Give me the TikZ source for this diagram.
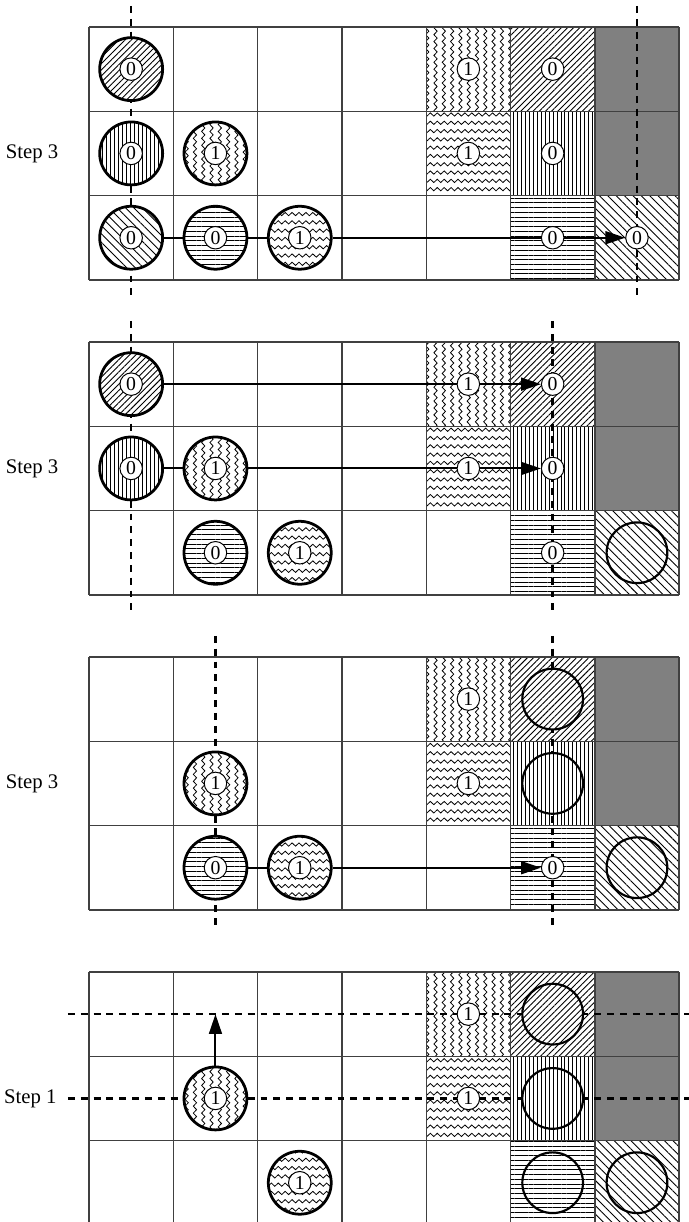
\documentclass[tikz,border=0pt]{standalone}
\usepackage{fontspec}
\setmainfont{Liberation Serif}
\usetikzlibrary{arrows.meta,patterns,patterns.meta}

\pgfdeclarelayer{bg}
\pgfsetlayers{bg,main}

\pgfdeclarepatternformonly{vwaves}{\pgfpoint{-1pt}{-1pt}}{\pgfpoint{5.2pt}{4.5pt}}{\pgfpoint{4.2pt}{3.5pt}}{%
  \pgfsetlinewidth{0.4pt}%
  \pgfpathmoveto{\pgfpoint{2.1pt}{0pt}}%
  \pgfpathcurveto{\pgfpoint{3.2pt}{0.6pt}}{\pgfpoint{3.2pt}{1.15pt}}{\pgfpoint{2.1pt}{1.75pt}}%
  \pgfpathcurveto{\pgfpoint{1pt}{2.35pt}}{\pgfpoint{1pt}{2.9pt}}{\pgfpoint{2.1pt}{3.5pt}}%
  \pgfusepath{stroke}}
\pgfdeclarepatternformonly{hwaves}{\pgfpoint{-1pt}{-1pt}}{\pgfpoint{4.5pt}{5.2pt}}{\pgfpoint{3.5pt}{4.2pt}}{%
  \pgfsetlinewidth{0.4pt}%
  \pgfpathmoveto{\pgfpoint{0pt}{2.1pt}}%
  \pgfpathcurveto{\pgfpoint{0.6pt}{3.2pt}}{\pgfpoint{1.15pt}{3.2pt}}{\pgfpoint{1.75pt}{2.1pt}}%
  \pgfpathcurveto{\pgfpoint{2.35pt}{1pt}}{\pgfpoint{2.9pt}{1pt}}{\pgfpoint{3.5pt}{2.1pt}}%
  \pgfusepath{stroke}}

\tikzset{
  hatchNE/.style={pattern={Lines[angle=45,distance=2.2pt,line width=.45pt]}},
  hatchNW/.style={pattern={Lines[angle=-45,distance=3pt,line width=.45pt]}},
  hatchV/.style={pattern={Lines[angle=90,distance=2pt,line width=.45pt]}},
  hatchH/.style={pattern={Lines[angle=0,distance=2.4pt,line width=.45pt]}},
  waveV/.style={pattern=vwaves},
  waveH/.style={pattern=hwaves},
  cellline/.style={line width=.7pt,draw=black!75,step=1.5cm},
  token/.style={circle,draw,line width=1.4pt,minimum size=1.12cm,inner sep=0pt,preaction={fill=white}},
  bigdisc/.style={circle,draw,line width=1.1pt,minimum size=1.08cm,inner sep=0pt,preaction={fill=white}},
  cellnum/.style={circle,draw,line width=.5pt,fill=white,inner sep=0pt,minimum size=.4cm,font=\fontsize{10}{10}\selectfont},
  link/.style={line width=1pt},
  move/.style={line width=1pt,-{Triangle[length=10pt,width=6.5pt]}},
  cut/.style={line width=1.2pt,dash pattern=on 3.5pt off 3pt},
  steplabel/.style={anchor=east,inner sep=0pt,font=\fontsize{10.5}{13}\selectfont}
}

\begin{document}
\begin{tikzpicture}[x=1.5cm,y=1.5cm]
\useasboundingbox (-1.056,0.32) rectangle (7.117,-14.176);

\begin{pgfonlayer}{bg}
\foreach \k in {0,1,2,3}{
\begin{scope}[shift={(0,-3.737*\k)}]
\fill[waveV] (4,0) rectangle (5,-1);
\fill[waveH] (4,-1) rectangle (5,-2);
\fill[hatchNE] (5,0) rectangle (6,-1);
\fill[hatchV] (5,-1) rectangle (6,-2);
\fill[hatchH] (5,-2) rectangle (6,-3);
\fill[black!50] (6,0) rectangle (7,-2);
\fill[hatchNW] (6,-2) rectangle (7,-3);
\draw[cellline] (0,-3) grid (7,0);
\end{scope}
}
\end{pgfonlayer}

% panel 1
\begin{scope}
\begin{pgfonlayer}{bg}
\draw[cut] (0.5,0.25) -- (0.5,-3.25);
\draw[cut] (6.5,0.25) -- (6.5,-3.25);
\end{pgfonlayer}
\node[steplabel] (p1step) at (-0.36,-1.5) {Step 3};
\node[token,hatchNE,label={[cellnum]center:0}] (p1t00) at (0.5,-0.5) {};
\node[token,hatchV,label={[cellnum]center:0}] (p1t01) at (0.5,-1.5) {};
\node[token,hatchNW,label={[cellnum]center:0}] (p1t02) at (0.5,-2.5) {};
\node[token,waveV,label={[cellnum]center:1}] (p1t11) at (1.5,-1.5) {};
\node[token,hatchH,label={[cellnum]center:0}] (p1t12) at (1.5,-2.5) {};
\node[token,waveH,label={[cellnum]center:1}] (p1t22) at (2.5,-2.5) {};
\node[cellnum] (p1c40) at (4.5,-0.5) {1};
\node[cellnum] (p1c50) at (5.5,-0.5) {0};
\node[cellnum] (p1c41) at (4.5,-1.5) {1};
\node[cellnum] (p1c51) at (5.5,-1.5) {0};
\node[cellnum] (p1c52) at (5.5,-2.5) {0};
\node[cellnum] (p1c62) at (6.5,-2.5) {0};
\begin{pgfonlayer}{bg}
\draw[link] (p1t02) -- (p1t12);
\draw[link] (p1t12) -- (p1t22);
\draw[move] (p1t22) -- (p1c62);
\end{pgfonlayer}
\end{scope}

% panel 2
\begin{scope}[shift={(0,-3.737)}]
\begin{pgfonlayer}{bg}
\draw[cut] (0.5,0.25) -- (0.5,-3.25);
\draw[cut] (5.5,0.25) -- (5.5,-3.25);
\end{pgfonlayer}
\node[steplabel] (p2step) at (-0.36,-1.5) {Step 3};
\node[token,hatchNE,label={[cellnum]center:0}] (p2t00) at (0.5,-0.5) {};
\node[token,hatchV,label={[cellnum]center:0}] (p2t01) at (0.5,-1.5) {};
\node[token,waveV,label={[cellnum]center:1}] (p2t11) at (1.5,-1.5) {};
\node[token,hatchH,label={[cellnum]center:0}] (p2t12) at (1.5,-2.5) {};
\node[token,waveH,label={[cellnum]center:1}] (p2t22) at (2.5,-2.5) {};
\node[cellnum] (p2c40) at (4.5,-0.5) {1};
\node[cellnum] (p2c50) at (5.5,-0.5) {0};
\node[cellnum] (p2c41) at (4.5,-1.5) {1};
\node[cellnum] (p2c51) at (5.5,-1.5) {0};
\node[cellnum] (p2c52) at (5.5,-2.5) {0};
\node[bigdisc,hatchNW] (p2d62) at (6.5,-2.5) {};
\begin{pgfonlayer}{bg}
\draw[move] (p2t00) -- (p2c50);
\draw[link] (p2t01) -- (p2t11);
\draw[move] (p2t11) -- (p2c51);
\end{pgfonlayer}
\end{scope}

% panel 3
\begin{scope}[shift={(0,-7.473)}]
\begin{pgfonlayer}{bg}
\draw[cut] (1.5,0.25) -- (1.5,-3.25);
\draw[cut] (5.5,0.25) -- (5.5,-3.25);
\end{pgfonlayer}
\node[steplabel] (p3step) at (-0.36,-1.5) {Step 3};
\node[token,waveV,label={[cellnum]center:1}] (p3t11) at (1.5,-1.5) {};
\node[token,hatchH,label={[cellnum]center:0}] (p3t12) at (1.5,-2.5) {};
\node[token,waveH,label={[cellnum]center:1}] (p3t22) at (2.5,-2.5) {};
\node[cellnum] (p3c40) at (4.5,-0.5) {1};
\node[cellnum] (p3c41) at (4.5,-1.5) {1};
\node[cellnum] (p3c52) at (5.5,-2.5) {0};
\node[bigdisc,hatchNE] (p3d50) at (5.5,-0.5) {};
\node[bigdisc,hatchV] (p3d51) at (5.5,-1.5) {};
\node[bigdisc,hatchNW] (p3d62) at (6.5,-2.5) {};
\begin{pgfonlayer}{bg}
\draw[link] (p3t12) -- (p3t22);
\draw[move] (p3t22) -- (p3c52);
\end{pgfonlayer}
\end{scope}

% panel 4
\begin{scope}[shift={(0,-11.21)}]
\begin{pgfonlayer}{bg}
\draw[cut] (-0.25,-0.5) -- (7.3,-0.5);
\draw[cut] (-0.25,-1.5) -- (7.3,-1.5);
\end{pgfonlayer}
\node[steplabel] (p4step) at (-0.38,-1.5) {Step 1};
\node[token,waveV,label={[cellnum]center:1}] (p4t11) at (1.5,-1.5) {};
\node[token,waveH,label={[cellnum]center:1}] (p4t22) at (2.5,-2.5) {};
\node[cellnum] (p4c40) at (4.5,-0.5) {1};
\node[cellnum] (p4c41) at (4.5,-1.5) {1};
\node[bigdisc,hatchNE] (p4d50) at (5.5,-0.5) {};
\node[bigdisc,hatchV] (p4d51) at (5.5,-1.5) {};
\node[bigdisc,hatchH] (p4d52) at (5.5,-2.5) {};
\node[bigdisc,hatchNW] (p4d62) at (6.5,-2.5) {};
\coordinate (p4up) at (1.5,-0.5);
\begin{pgfonlayer}{bg}
\draw[move] (p4t11.north) -- (p4up);
\end{pgfonlayer}
\end{scope}
\end{tikzpicture}
\end{document}
